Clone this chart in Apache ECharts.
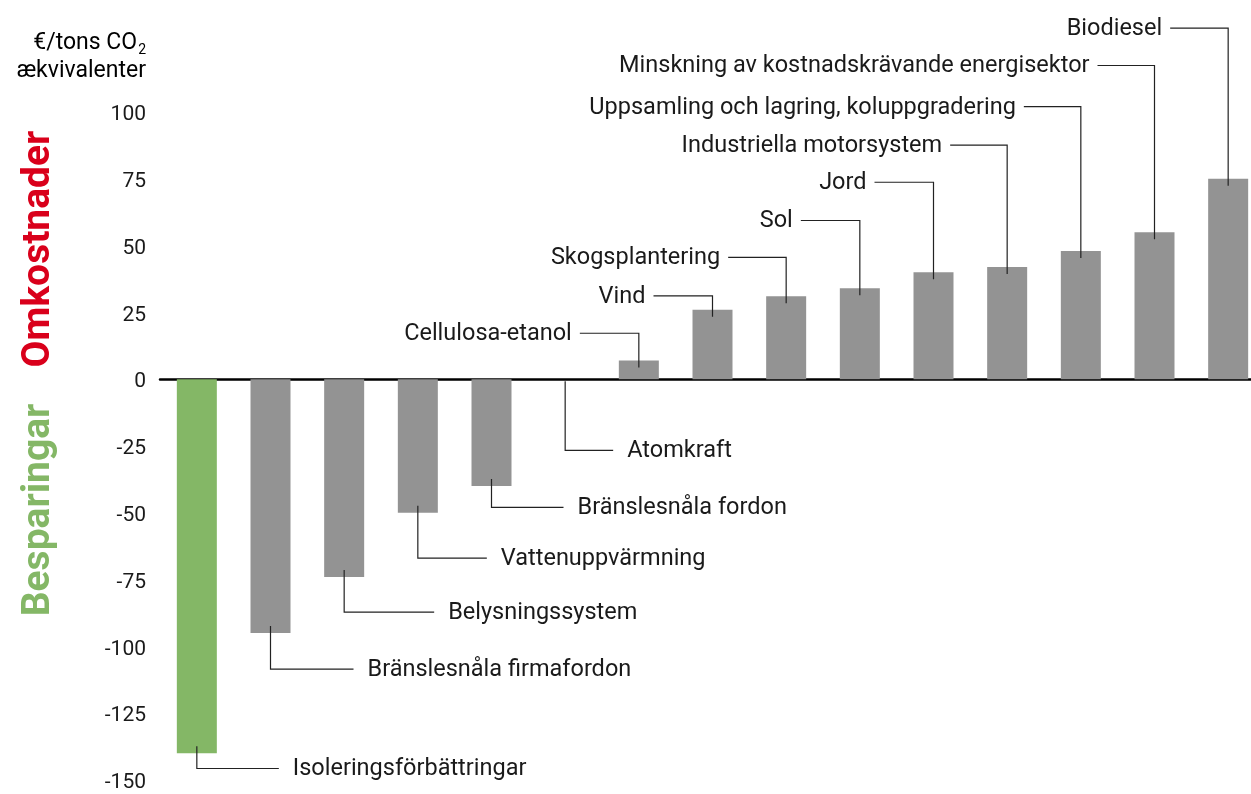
<!DOCTYPE html>
<html>
<head>
<meta charset="utf-8">
<script src="https://cdn.jsdelivr.net/npm/echarts@6/dist/echarts.min.js"></script>
<style>
  html, body { margin: 0; padding: 0; background: #fff; }
  #chart { width: 1251px; height: 794px; }
</style>
</head>
<body>
<div id="chart"></div>
<script>
// atgärder, sorterade efter kostnad
var categories = [
  'Isoleringsförbättringar',
  'Bränslesnåla firmafordon',
  'Belysningssystem',
  'Vattenuppvärmning',
  'Bränslesnåla fordon',
  'Atomkraft',
  'Cellulosa-etanol',
  'Vind',
  'Skogsplantering',
  'Sol',
  'Jord',
  'Industriella motorsystem',
  'Uppsamling och lagring, koluppgradering',
  'Minskning av kostnadskrävande energisektor',
  'Biodiesel'
];
var values = [-140, -95, -74, -50, -40, 0, 7, 26, 31, 34, 40, 42, 48, 55, 75];
var yTicks = [-150, -125, -100, -75, -50, -25, 0, 25, 50, 75, 100];

// var etiketten hamnar (i axelns enheter) och hur lång den vågräta linjen är (px)
var labelLevels = [-145.7, -108.5, -87.2, -67, -48, -26.6, 17.2, 31.2, 45.6, 59.4, 73.7, 87.6, 102, 117.4, 131.4];
var leaderLengths = [82, 83, 90, 69, 72, 48, 59, 59, 58, 59, 59, 57, 57, 57, 58];

var FONT = 'Roboto, "DejaVu Sans", sans-serif';
var TEXT = '#1a1a1a';

var chart = echarts.init(document.getElementById('chart'));

chart.setOption({
  animation: false,
  grid: {
    left: 160,
    width: 1105,
    top: 112,
    bottom: 14,
    outerBoundsMode: 'none',
    containLabel: false
  },
  xAxis: {
    type: 'category',
    data: categories,
    axisLine: { onZero: true, lineStyle: { color: '#000', width: 2.5 } },
    axisTick: { show: false },
    axisLabel: { show: false },
    splitLine: { show: false }
  },
  yAxis: {
    type: 'value',
    min: yTicks[0],
    max: yTicks[yTicks.length - 1],
    interval: 25,
    axisLine: { show: false },
    axisTick: { show: false },
    splitLine: { show: false },
    axisLabel: {
      margin: 14,
      formatter: '{t|{value}}',
      rich: {
        t: {
          fontFamily: FONT,
          fontSize: 21,
          color: TEXT,
          padding: [6, 0, 0, 0]
        }
      }
    }
  },
  graphic: [
    {
      type: 'text',
      right: 1251 - 146,
      top: 32,
      style: {
        text: '{n|€/tons CO}{s|2}\n{n|ækvivalenter}',
        textAlign: 'right',
        align: 'right',
        rich: {
          n: { fontFamily: FONT, fontSize: 23, color: TEXT, lineHeight: 28 },
          s: { fontFamily: FONT, fontSize: 14, color: TEXT, lineHeight: 28, verticalAlign: 'bottom', padding: [6, 0, 0, 1] }
        }
      }
    },
    {
      type: 'text',
      x: 39,
      y: 249,
      rotation: Math.PI / 2,
      style: {
        text: 'Omkostnader',
        font: 'bold 39px ' + FONT,
        fill: '#d9001b',
        textAlign: 'center',
        textVerticalAlign: 'middle',
        align: 'center',
        verticalAlign: 'middle'
      }
    },
    {
      type: 'text',
      x: 39,
      y: 510,
      rotation: Math.PI / 2,
      style: {
        text: 'Besparingar',
        font: 'bold 39px ' + FONT,
        fill: '#84b766',
        textAlign: 'center',
        textVerticalAlign: 'middle',
        align: 'center',
        verticalAlign: 'middle'
      }
    }
  ],
  series: [
    {
      type: 'bar',
      data: values,
      barWidth: 40,
      itemStyle: {
        color: function (p) {
          return p.dataIndex === 0 ? '#84b766' : '#939393';
        }
      },
      z: 2
    },
    {
      type: 'custom',
      clip: false,
      silent: true,
      z: 5,
      encode: { x: 0, y: 1 },
      data: values.map(function (v, i) {
        return [i, v, labelLevels[i], leaderLengths[i]];
      }),
      renderItem: function (params, api) {
        var i = api.value(0);
        var v = api.value(1);
        var lvl = api.value(2);
        var len = api.value(3);
        var end = api.coord([i, v]);
        var zero = api.coord([i, 0]);
        var ly = api.coord([i, lvl])[1];
        var cx = end[0];
        var inner;
        if (v === 0) {
          inner = zero[1] + 2;
        } else {
          inner = end[1] + (v > 0 ? 7 : -7);
        }
        var points, tx, align;
        if (lvl > 0) {
          points = [[cx - len, ly], [cx, ly], [cx, inner]];
          tx = cx - len - 8;
          align = 'right';
        } else {
          points = [[cx, inner], [cx, ly], [cx + len, ly]];
          tx = cx + len + 14;
          align = 'left';
        }
        return {
          type: 'group',
          children: [
            {
              type: 'polyline',
              shape: { points: points },
              style: { stroke: '#222', lineWidth: 1.2, fill: null }
            },
            {
              type: 'text',
              style: {
                text: categories[i],
                x: tx,
                y: ly + 1,
                font: '23.5px ' + FONT,
                fill: TEXT,
                textAlign: align,
                align: align,
                textVerticalAlign: 'middle',
                verticalAlign: 'middle'
              }
            }
          ]
        };
      }
    }
  ]
});
</script>
</body>
</html>
